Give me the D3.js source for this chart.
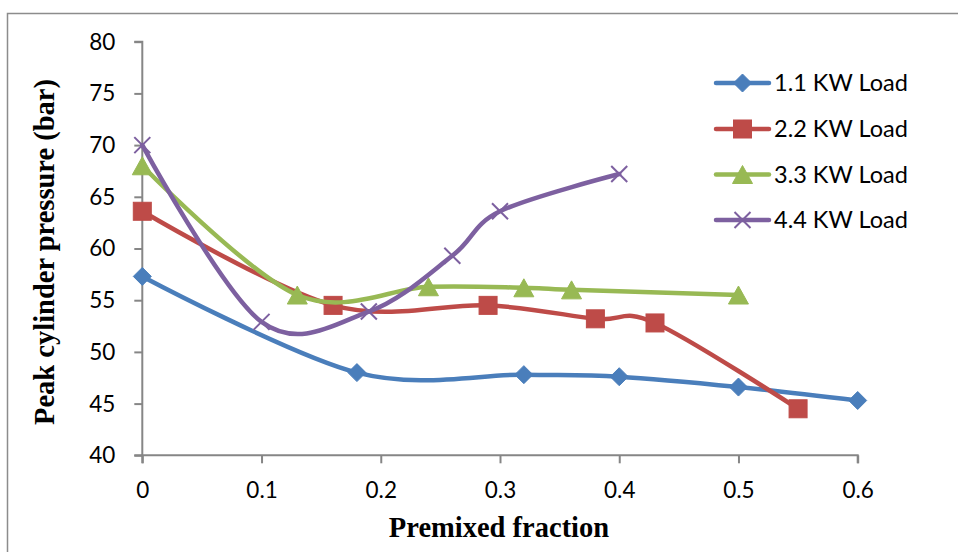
<!DOCTYPE html>
<html>
<head>
<meta charset="utf-8">
<script src="https://cdn.jsdelivr.net/npm/d3@7"></script>
<style>
  html, body { margin: 0; padding: 0; background: #fff; }
  svg { display: block; }
</style>
</head>
<body>
<svg id="chart" width="958" height="552"></svg>
<script>
// ---- data ----
const seriesNames = ["1.1 KW Load", "2.2 KW Load", "3.3 KW Load", "4.4 KW Load"];
const load11x = [0, 0.18, 0.32, 0.40, 0.50, 0.60];
const load11y = [57.3, 48.0, 47.8, 47.6, 46.6, 45.3];
const load22x = [0, 0.16, 0.29, 0.38, 0.43, 0.55];
const load22y = [63.6, 54.5, 54.5, 53.2, 52.8, 44.5];
const load33x = [0, 0.13, 0.24, 0.32, 0.36, 0.50];
const load33y = [68.0, 55.5, 56.3, 56.2, 56.0, 55.5];
const load44x = [0, 0.10, 0.19, 0.26, 0.30, 0.40];
const load44y = [70.0, 52.9, 53.9, 59.3, 63.6, 67.2];
const xTicks = [0, 0.1, 0.2, 0.3, 0.4, 0.5, 0.6];
const yTicks = [40, 45, 50, 55, 60, 65, 70, 75, 80];
const colors = ["#4A7EBB", "#BE4B48", "#98B954", "#7D60A0"];
const markers = ["diamond", "square", "triangle", "x"];

const svg = d3.select("#chart");

// outer frame (left and top edges visible)
svg.append("path")
  .attr("d", "M7.5,552 L7.5,13.5 L958,13.5")
  .attr("fill", "none").attr("stroke", "#8c8c8c").attr("stroke-width", 1.5);

const x = d3.scaleLinear().domain([0, 0.6]).range([142.3, 857.7]);
const y = d3.scaleLinear().domain([40, 80]).range([455.3, 41.7]);

const axisColor = "#868686";
const tickFont = "Lato, 'Open Sans', sans-serif";

// x axis
const gx = svg.append("g").attr("transform", `translate(0,${y(40)})`)
  .call(d3.axisBottom(x).tickValues(xTicks).tickSize(8)
    .tickFormat(d => d3.format("")(+d.toFixed(1))));
// y axis
const gy = svg.append("g").attr("transform", `translate(${x(0)},0)`)
  .call(d3.axisLeft(y).tickValues(yTicks).tickSize(8));

[gx, gy].forEach(g => {
  g.select(".domain").attr("stroke", axisColor).attr("stroke-width", 2);
  g.selectAll(".tick line").attr("stroke", axisColor).attr("stroke-width", 2);
  g.selectAll(".tick text").attr("fill", "#000")
    .style("font-family", tickFont).style("font-size", "22.5px");
});
gx.selectAll(".tick text").attr("y", 42.7).attr("dy", 0);
gy.selectAll(".tick text").attr("x", -27).attr("dy", "0.33em");
gx.select(".domain").attr("d", `M${x(0)},8V0H${x(0.6)}V8`);
gy.select(".domain").attr("d", `M-8,${y(80)}H0V${y(40)}H-8`);

// axis titles
svg.append("text")
  .attr("x", 499).attr("y", 537)
  .attr("text-anchor", "middle")
  .style("font-family", "'Liberation Serif', 'Times New Roman', serif")
  .style("font-weight", "bold").style("font-size", "28.5px")
  .text("Premixed fraction");
svg.append("text")
  .attr("transform", "translate(54,252) rotate(-90)")
  .attr("text-anchor", "middle")
  .style("font-family", "'Liberation Serif', 'Times New Roman', serif")
  .style("font-weight", "bold").style("font-size", "28.5px")
  .text("Peak cylinder pressure (bar)");

// series
const allX = [load11x, load22x, load33x, load44x];
const allY = [load11y, load22y, load33y, load44y];
const series = seriesNames.map((name, i) => ({
  name, color: colors[i], marker: markers[i],
  pts: allX[i].map((v, j) => ({ x: v, y: allY[i][j] }))
}));

const line = d3.line().x(d => x(d.x)).y(d => y(d.y)).curve(d3.curveCatmullRom.alpha(0));

function drawMarker(g, type, cx, cy, color) {
  if (type === "diamond") {
    const r = 9;
    g.append("path").attr("d", `M${cx},${cy - r}L${cx + r},${cy}L${cx},${cy + r}L${cx - r},${cy}Z`)
      .attr("fill", color).attr("stroke", color).attr("stroke-width", 1);
  } else if (type === "square") {
    const s = 18;
    g.append("rect").attr("x", cx - s / 2).attr("y", cy - s / 2).attr("width", s).attr("height", s)
      .attr("fill", color).attr("stroke", color).attr("stroke-width", 1);
  } else if (type === "triangle") {
    const w = 10, h = 9;
    g.append("path").attr("d", `M${cx},${cy - h}L${cx + w},${cy + h}L${cx - w},${cy + h}Z`)
      .attr("fill", color).attr("stroke", color).attr("stroke-width", 1);
  } else if (type === "x") {
    const r = 8;
    g.append("path").attr("d", `M${cx - r},${cy - r}L${cx + r},${cy + r}M${cx - r},${cy + r}L${cx + r},${cy - r}`)
      .attr("stroke", color).attr("stroke-width", 2).attr("fill", "none");
  }
}

series.forEach(s => {
  const g = svg.append("g");
  g.append("path").datum(s.pts).attr("d", line)
    .attr("fill", "none").attr("stroke", s.color).attr("stroke-width", 4.5)
    .attr("stroke-linecap", "round").attr("stroke-linejoin", "round");
  s.pts.forEach(p => drawMarker(g, s.marker, x(p.x), y(p.y), s.color));
});

// legend
const legY = [83, 129, 174.5, 220];
series.forEach((s, i) => {
  const g = svg.append("g");
  g.append("line").attr("x1", 716).attr("x2", 769).attr("y1", legY[i]).attr("y2", legY[i])
    .attr("stroke", s.color).attr("stroke-width", 4.5).attr("stroke-linecap", "round");
  drawMarker(g, s.marker, 742.5, legY[i], s.color);
  g.append("text").attr("x", 774).attr("y", legY[i]).attr("dy", "0.36em")
    .style("font-family", tickFont).style("font-size", "23.5px").attr("fill", "#000")
    .text(s.name);
});
</script>
</body>
</html>
